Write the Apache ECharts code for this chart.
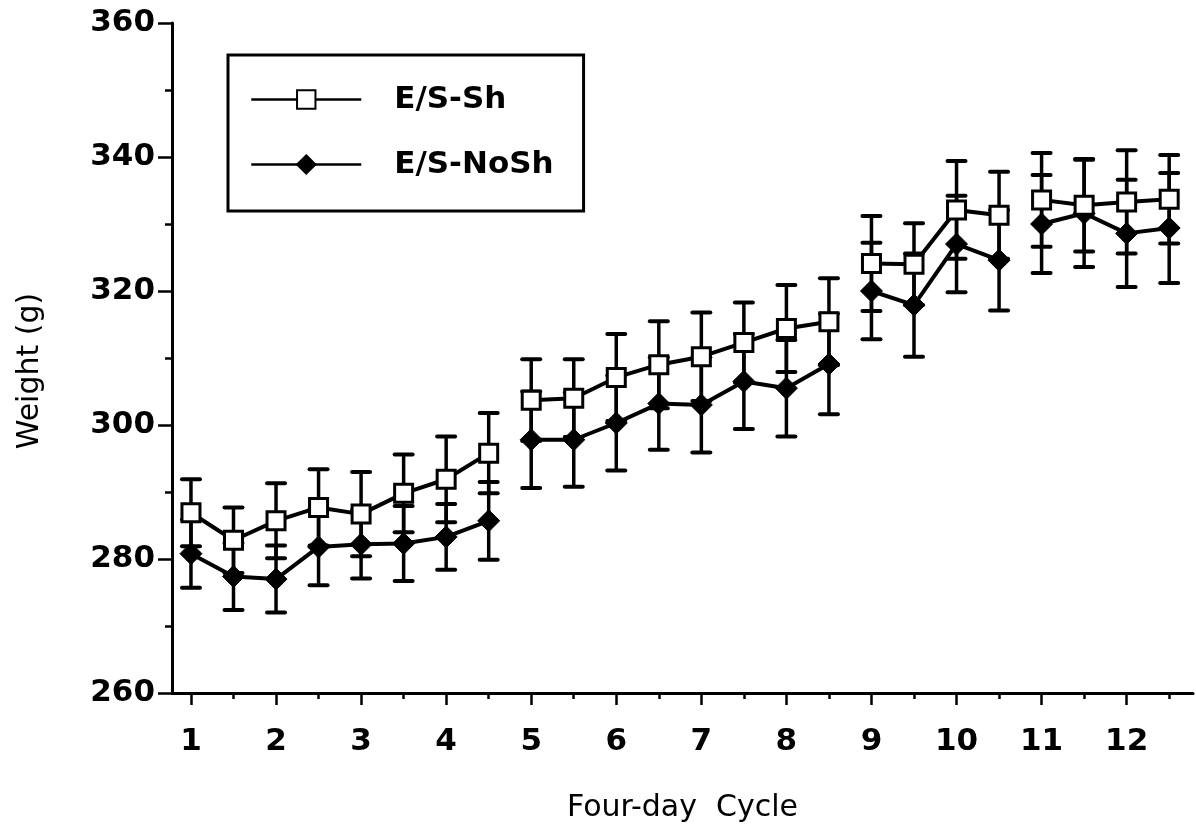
<!DOCTYPE html>
<html>
<head>
<meta charset="utf-8">
<script src="https://cdn.jsdelivr.net/npm/echarts@6/dist/echarts.min.js"></script>
<style>
  html, body { margin: 0; padding: 0; background: #fff; }
  #chart { width: 1196px; height: 834px; }
</style>
</head>
<body>
<div id="chart"></div>
<script>
// x positions of the measurements (two per four-day cycle)
const cycles = [1, 1.5, 2, 2.5, 3, 3.5, 4, 4.5, 5, 5.5, 6, 6.5, 7, 7.5, 8, 8.5, 9, 9.5, 10, 10.5, 11, 11.5, 12, 12.5];
// the connecting line is broken after these points
const breakAfter = [4.5, 8.5, 10.5];

const shMean = [286.9, 282.8, 285.7, 287.7, 286.7, 289.8, 291.9, 295.8, 303.7, 304.0, 307.1, 309.0, 310.2, 312.3, 314.4, 315.4, 324.1, 324.0, 332.1, 331.3, 333.6, 332.8, 333.3, 333.7];
const shErr = [5.0, 4.9, 5.6, 5.7, 6.3, 5.8, 6.4, 6.0, 6.1, 5.8, 6.5, 6.5, 6.6, 6.0, 6.5, 6.5, 7.1, 6.1, 7.3, 6.5, 7.0, 6.9, 7.7, 6.6];

const noShMean = [280.8, 277.4, 277.0, 281.8, 282.2, 282.3, 283.3, 285.7, 297.8, 297.8, 300.3, 303.2, 303.0, 306.5, 305.5, 309.1, 320.0, 317.9, 327.0, 324.6, 330.0, 331.6, 328.6, 329.4];
const noShErr = [5.1, 5.0, 5.0, 5.7, 5.1, 5.6, 4.9, 5.8, 7.2, 7.0, 7.1, 6.9, 7.1, 7.1, 7.2, 7.5, 7.2, 7.7, 7.2, 7.5, 7.3, 8.0, 8.0, 8.2];

const xTicks = [1, 2, 3, 4, 5, 6, 7, 8, 9, 10, 11, 12];
const xMinorTicks = [1.5, 2.5, 3.5, 4.5, 5.5, 6.5, 7.5, 8.5, 9.5, 10.5, 11.5, 12.5];

const chart = echarts.init(document.getElementById('chart'));

// line data with gaps where the curve is interrupted
function lineData(means) {
  const out = [];
  cycles.forEach((c, i) => {
    out.push([c, means[i]]);
    if (breakAfter.includes(c)) out.push([c + 0.25, '-']);
  });
  return out;
}

function barData(means, errs) {
  return cycles.map((c, i) => [c, means[i] - errs[i], means[i] + errs[i]]);
}

function renderBars(params, api) {
  const x = api.value(0);
  const lo = api.coord([x, api.value(1)]);
  const hi = api.coord([x, api.value(2)]);
  const half = 9;
  const stem = { stroke: '#000', lineWidth: 3.5 };
  const cap = { stroke: '#000', lineWidth: 4, lineCap: 'round' };
  return {
    type: 'group',
    children: [
      { type: 'line', shape: { x1: lo[0], y1: lo[1], x2: hi[0], y2: hi[1] }, style: stem },
      { type: 'line', shape: { x1: lo[0] - half, y1: lo[1], x2: lo[0] + half, y2: lo[1] }, style: cap },
      { type: 'line', shape: { x1: hi[0] - half, y1: hi[1], x2: hi[0] + half, y2: hi[1] }, style: cap }
    ]
  };
}

const tickFont = { fontFamily: 'DejaVu Sans', fontWeight: 'bold', fontSize: 31, color: '#000' };
const titleFont = { fontFamily: 'DejaVu Sans', fontSize: 30, color: '#000' };

const option = {
  animation: false,
  backgroundColor: '#fff',
  grid: { left: 172, right: 3, top: 23, bottom: 141 },
  legend: {
    orient: 'vertical',
    left: 228,
    top: 55,
    padding: [29, 30, 31, 22],
    itemGap: 34,
    itemWidth: 110,
    itemHeight: 23,
    borderColor: '#000',
    borderWidth: 3,
    lineStyle: { width: 2.5 },
    textStyle: Object.assign({ padding: [0, 0, 0, 28] }, tickFont),
    data: ['E/S-Sh', 'E/S-NoSh']
  },
  xAxis: [
    {
      type: 'value',
      min: 0.777,
      max: 12.78,
      name: 'Four-day  Cycle',
      nameLocation: 'middle',
      nameGap: 100,
      nameTextStyle: titleFont,
      splitLine: { show: false },
      axisLine: { lineStyle: { color: '#000', width: 3 } },
      axisTick: { customValues: xTicks, length: 12, lineStyle: { color: '#000', width: 2.5 } },
      axisLabel: Object.assign({ customValues: xTicks, margin: 33 }, tickFont)
    },
    {
      type: 'value',
      min: 0.777,
      max: 12.78,
      position: 'bottom',
      splitLine: { show: false },
      axisLine: { show: false },
      axisTick: { customValues: xMinorTicks, length: 6, lineStyle: { color: '#000', width: 2.5 } },
      axisLabel: { show: false }
    }
  ],
  yAxis: {
    type: 'value',
    min: 260,
    max: 360,
    interval: 20,
    name: 'Weight (g)',
    nameLocation: 'middle',
    nameGap: 127,
    nameTextStyle: Object.assign({ padding: [0, 26, 0, 0] }, titleFont),
    splitLine: { show: false },
    axisLine: { lineStyle: { color: '#000', width: 3 } },
    axisTick: { length: 14, lineStyle: { color: '#000', width: 2.5 } },
    minorTick: { show: true, splitNumber: 2, length: 7, lineStyle: { color: '#000', width: 2.5 } },
    axisLabel: Object.assign({ margin: 17 }, tickFont)
  },
  series: [
    {
      type: 'custom',
      name: 'sh-err',
      renderItem: renderBars,
      encode: { x: 0, y: [1, 2] },
      data: barData(shMean, shErr),
      z: 1
    },
    {
      type: 'custom',
      name: 'nosh-err',
      renderItem: renderBars,
      encode: { x: 0, y: [1, 2] },
      data: barData(noShMean, noShErr),
      z: 1
    },
    {
      name: 'E/S-Sh',
      type: 'line',
      data: lineData(shMean),
      symbol: 'rect',
      symbolSize: 18,
      showAllSymbol: true,
      lineStyle: { color: '#000', width: 4 },
      itemStyle: { color: '#fff', borderColor: '#000', borderWidth: 3 },
      z: 3
    },
    {
      name: 'E/S-NoSh',
      type: 'line',
      data: lineData(noShMean),
      symbol: 'diamond',
      symbolSize: 22,
      showAllSymbol: true,
      lineStyle: { color: '#000', width: 4 },
      itemStyle: { color: '#000', borderColor: '#000', borderWidth: 1 },
      z: 2
    }
  ]
};

chart.setOption(option);
</script>
</body>
</html>
